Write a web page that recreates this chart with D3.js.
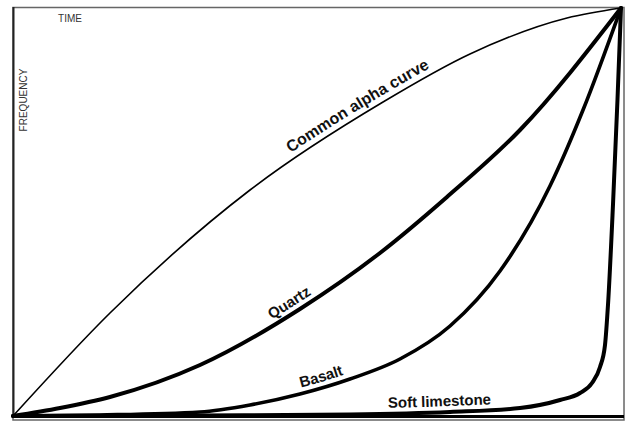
<!DOCTYPE html>
<meta charset="utf-8">
<style>
body {
    margin: 0px;
    background: #fff;
    overflow: hidden;
}
text {
  font-family: "Liberation Sans", Arial, sans-serif;
}
.curve {
  fill: none;
  stroke: #000;
  stroke-linecap: round;
}
</style>
<body>
<script src="https://d3js.org/d3.v7.min.js"></script>
<script>
// values, time 0-100 vs frequency 0-100
var commonAlpha = [[0,0],[15.95,25.25],[38.98,55.39],[60.86,76.96],[75.16,88.73],[91.12,97.55],[100,100]];
var quartz = [[0,0],[7.73,1.96],[15.95,4.66],[30.76,12.5],[47.2,26.23],[60.36,39.95],[71.38,53.68],[83.39,70.1],[100,100]];
var basalt = [[0,0],[14.31,0.25],[30.76,0.98],[39,2.7],[47.2,5.39],[55.43,9.07],[63.65,13.97],[71.88,22.06],[80.1,35.54],[88.32,56.37],[93.75,74.99],[100,100]];
var softLimestone = [[0,0],[30.76,0.12],[55.43,0.37],[71.88,0.98],[83.39,1.96],[89.97,3.92],[93.26,5.64],[95.23,8.09],[96.55,12.01],[97.37,17.4],[97.86,27.21],[98.68,51.72],[99.42,77.45],[100,100]];

var series = ["Common alpha curve", "Quartz", "Basalt", "Soft limestone"];
var seriesData = [commonAlpha, quartz, basalt, softLimestone];
var widths = [1.6, 4, 3.6, 4];
var labelAt = [57.5, 46.4, 51.2, 70.2];   // x position of each label centre
var labelSize = [16, 15, 15, 15];

var width = 625,
    height = 421;

var x = d3.scaleLinear().domain([0, 100]).range([13, 621]);
var y = d3.scaleLinear().domain([0, 100]).range([416, 8]);

var svg = d3.select("body").append("svg")
    .attr("width", width)
    .attr("height", height);

// frame
svg.append("rect")
    .attr("x", 13).attr("y", 7.5)
    .attr("width", 611).attr("height", 412.5)
    .attr("fill", "none")
    .attr("stroke", "#666")
    .attr("stroke-width", 1.5);

svg.append("line")
    .attr("x1", 13.5).attr("x2", 13.5)
    .attr("y1", 7).attr("y2", 418)
    .attr("stroke", "#222")
    .attr("stroke-width", 2);

svg.append("line")
    .attr("x1", 13).attr("x2", 624)
    .attr("y1", 416.5).attr("y2", 416.5)
    .attr("stroke", "#000")
    .attr("stroke-width", 3);

var line = d3.line()
    .x(function(d) { return x(d[0]); })
    .y(function(d) { return y(d[1]); })
    .curve(d3.curveMonotoneX);

var paths = svg.selectAll("path.curve")
    .data(seriesData)
    .enter().append("path")
    .attr("class", "curve")
    .attr("id", function(d, i) { return "c" + i; })
    .attr("stroke-width", function(d, i) { return widths[i]; })
    .attr("d", line);

// labels ride along the curves
paths.each(function(d, i) {
    var p = this, total = p.getTotalLength();
    var lo = 0, hi = total, tx = x(labelAt[i]);
    for (var k = 0; k < 40; k++) {
        var mid = (lo + hi) / 2;
        if (p.getPointAtLength(mid).x < tx) lo = mid; else hi = mid;
    }
    svg.append("text")
        .attr("font-size", labelSize[i])
        .attr("font-weight", "bold")
        .attr("fill", "#111")
        .attr("dy", -6)
        .append("textPath")
        .attr("href", "#c" + i)
        .attr("startOffset", lo)
        .attr("text-anchor", "middle")
        .text(series[i]);
});

svg.append("text")
    .attr("x", 70).attr("y", 22)
    .attr("text-anchor", "middle")
    .attr("font-size", 10)
    .attr("fill", "#333")
    .text("TIME");

svg.append("text")
    .attr("transform", "translate(27,100) rotate(-90)")
    .attr("text-anchor", "middle")
    .attr("font-size", 10)
    .attr("fill", "#333")
    .text("FREQUENCY");
</script>
</body>
</html>
